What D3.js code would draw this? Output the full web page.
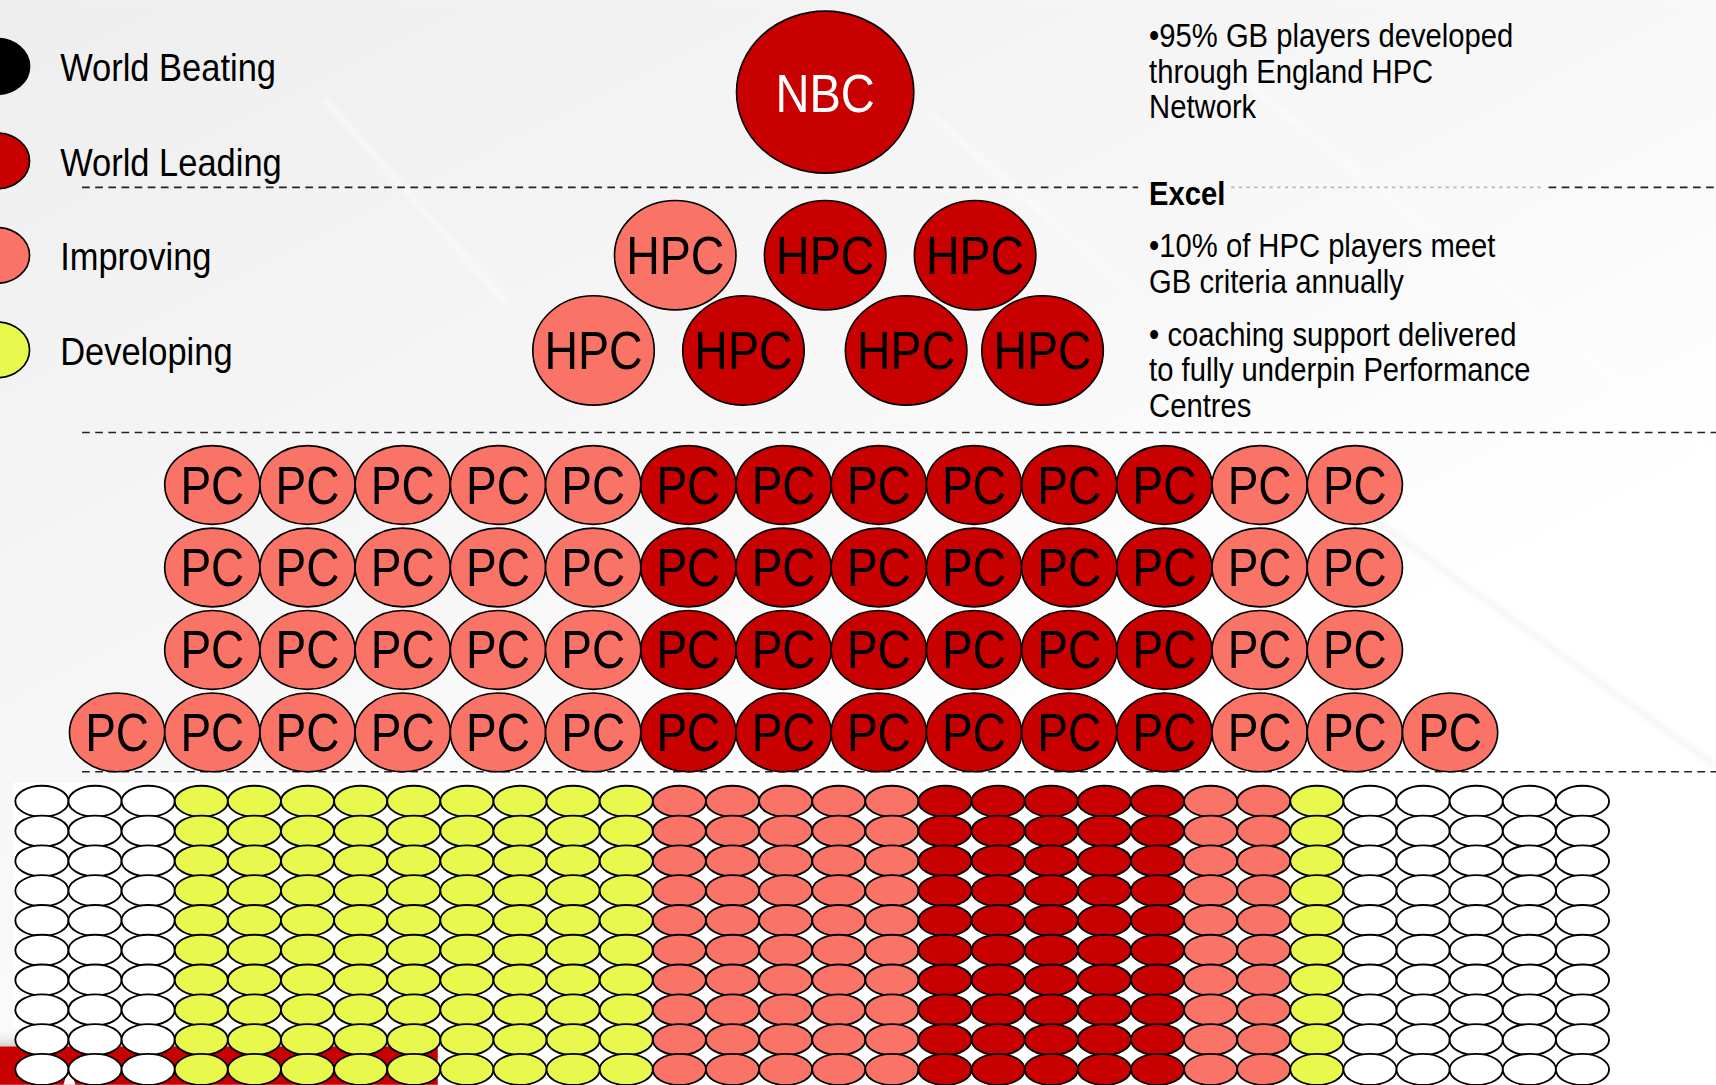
<!DOCTYPE html>
<html>
<head>
<meta charset="utf-8">
<script src="https://cdn.jsdelivr.net/npm/d3@7"></script>
<style>
  html, body { margin: 0; padding: 0; overflow: hidden; background: #fff; }
</style>
</head>
<body>
<div class="chart"></div>
<script>
//** data */
const levels = ["World Beating", "World Leading", "Improving", "Developing"];
const levelFill = ["#000000", "#c80000", "#f97366", "#e8f84c"];

const nbcRow = ["World Leading"];
const hpcRow1 = ["Improving", "World Leading", "World Leading"];
const hpcRow2 = ["Improving", "World Leading", "World Leading", "World Leading"];

// PC rows, left to right as [level, count]
const pcRowRuns = [
  [["Improving", 5], ["World Leading", 6], ["Improving", 2]],
  [["Improving", 5], ["World Leading", 6], ["Improving", 2]],
  [["Improving", 5], ["World Leading", 6], ["Improving", 2]],
  [["Improving", 6], ["World Leading", 6], ["Improving", 3]]
];

// bottom grid: column runs (null = not yet rated), same for every row
const gridColumnRuns = [[null, 3], ["Developing", 9], ["Improving", 5], ["World Leading", 5], ["Improving", 2], ["Developing", 1], [null, 5]];
const gridRowCount = 10;

const notes1 = ["•95% GB players developed", "through England HPC", "Network"];
const notesTitle = "Excel";
const notes2 = ["•10% of HPC players meet", "GB criteria annually"];
const notes3 = ["• coaching support delivered", "to fully underpin Performance", "Centres"];

//** helpers */
const expand = runs => runs.flatMap(([lvl, n]) => d3.range(n).map(() => lvl));
const color = d3.scaleOrdinal(levels, levelFill).unknown("#ffffff");
const FONT = "'Liberation Sans', Arial, Helvetica, sans-serif";
const STRETCH = 1.15;

//** svg */
const W = 1568, H = 991;
const svg = d3.select(".chart")
  .append("svg")
  .attr("width", 1716)
  .attr("height", 1085)
  .attr("viewBox", `0 0 ${W} ${H}`)
  .style("display", "block");

const defs = svg.append("defs");
const bg = defs.append("linearGradient").attr("id", "bg")
  .attr("x1", "0").attr("y1", "0").attr("x2", "0.8").attr("y2", "1");
bg.append("stop").attr("offset", "0%").attr("stop-color", "#eeeeee");
bg.append("stop").attr("offset", "50%").attr("stop-color", "#f8f8f8");
bg.append("stop").attr("offset", "75%").attr("stop-color", "#ffffff");
const shade = defs.append("linearGradient").attr("id", "shade")
  .attr("x1", "0").attr("y1", "0").attr("x2", "0").attr("y2", "1");
shade.append("stop").attr("offset", "0%").attr("stop-color", "#ffffff").attr("stop-opacity", 0);
shade.append("stop").attr("offset", "100%").attr("stop-color", "#cfcfcf");
defs.append("filter").attr("id", "blur").append("feGaussianBlur").attr("stdDeviation", 2.5);

svg.append("rect").attr("width", W).attr("height", H).attr("fill", "url(#bg)");

// faint diagonal streaks of the slide template
const streaks = [[[297, 91], [462, 276]], [[848, 102], [1028, 261]], [[1120, 60], [1568, 420]], [[752, 587], [936, 832]], [[1180, 420], [1568, 700]]];
svg.append("g").attr("filter", "url(#blur)").attr("opacity", 0.45)
  .selectAll("line").data(streaks).join("line")
  .attr("x1", d => d[0][0]).attr("y1", d => d[0][1])
  .attr("x2", d => d[1][0]).attr("y2", d => d[1][1])
  .attr("stroke", (d, i) => i < 3 ? "#ffffff" : "#e8e8e8")
  .attr("stroke-width", 5);

// white field behind the bottom grid
svg.append("rect").attr("x", 12).attr("y", 715).attr("width", 1462).attr("height", 225).attr("fill", "#ffffff");

// footer of the template, bottom left
svg.append("rect").attr("x", 0).attr("y", 938).attr("width", 420).attr("height", 18).attr("fill", "url(#shade)");
svg.append("rect").attr("x", 0).attr("y", 956).attr("width", 400).attr("height", H - 956).attr("fill", "#c80000");
svg.append("polygon").attr("points", "58,991 63,974 69,991").attr("fill", "#ffffff");

function label(g, x, y, txt, size, opts = {}) {
  return g.append("text")
    .attr("transform", `translate(${x},${y}) scale(1,${STRETCH})`)
    .attr("dy", "0.35em")
    .attr("text-anchor", opts.anchor || "start")
    .attr("font-family", FONT)
    .attr("font-size", size)
    .attr("font-weight", opts.bold ? "bold" : "normal")
    .attr("fill", opts.fill || "#000")
    .text(txt);
}

//** dashed separators */
const dash = svg.append("g").attr("stroke", "#222").attr("stroke-width", 1.4).attr("stroke-dasharray", "7,5");
[[75, 1040, 171], [1415, W, 171], [75, W, 395], [75, W, 705]].forEach(([x1, x2, y]) => {
  dash.append("line").attr("x1", x1).attr("x2", x2).attr("y1", y).attr("y2", y);
});
svg.append("line").attr("x1", 1125).attr("x2", 1412).attr("y1", 171).attr("y2", 171)
  .attr("stroke", "#b8b8b8").attr("stroke-width", 1.6).attr("stroke-dasharray", "3,4");

//** legend */
const legendY = d3.scalePoint().domain(levels).range([60.5, 319.5]);
const legend = svg.append("g");
legend.selectAll("ellipse").data(levels).join("ellipse")
  .attr("cx", -3).attr("cy", d => legendY(d))
  .attr("rx", 30).attr("ry", 25.5)
  .attr("fill", d => color(d)).attr("stroke", "#000").attr("stroke-width", 1.5);
levels.forEach(d => label(legend, 55, legendY(d) + 1, d, 31.5));

//** NBC */
const nbc = svg.append("g");
nbcRow.forEach(d => {
  nbc.append("ellipse").attr("cx", 754).attr("cy", 84).attr("rx", 81).attr("ry", 74)
    .attr("fill", color(d)).attr("stroke", "#000").attr("stroke-width", 1.5);
  label(nbc, 754, 85, "NBC", 43, {anchor: "middle", fill: "#ffffff"});
});

//** HPC */
const hpcX = d3.scaleLinear().domain([0, 1]).range([617, 754]);
const hpcY = d3.scalePoint().domain([0, 1]).range([233, 320]);
const hpcRow2Slots = [-0.545, 0.455, 1.54, 2.45];
const hpcData = hpcRow1.map((lvl, i) => ({lvl, x: hpcX(i), y: hpcY(0)}))
  .concat(hpcRow2.map((lvl, i) => ({lvl, x: hpcX(hpcRow2Slots[i]), y: hpcY(1)})));
const hpc = svg.append("g");
hpc.selectAll("ellipse").data(hpcData).join("ellipse")
  .attr("cx", d => d.x).attr("cy", d => d.y).attr("rx", 55.5).attr("ry", 50)
  .attr("fill", d => color(d.lvl)).attr("stroke", "#000").attr("stroke-width", 1.5);
hpcData.forEach(d => label(hpc, d.x, d.y, "HPC", 42.5, {anchor: "middle"}));

//** PC */
const pcRowStart = [1, 1, 1, 0];
const pcX = d3.scaleLinear().domain([0, 14]).range([107, 1325]);
const pcY = d3.scaleLinear().domain([0, 3]).range([443, 669]);
const pcData = pcRowRuns.flatMap((runs, r) => expand(runs).map((lvl, i) => ({lvl, x: pcX(i + pcRowStart[r]), y: pcY(r)})));
const pc = svg.append("g");
pc.selectAll("ellipse").data(pcData).join("ellipse")
  .attr("cx", d => d.x).attr("cy", d => d.y).attr("rx", 43.5).attr("ry", 36)
  .attr("fill", d => color(d.lvl)).attr("stroke", "#000").attr("stroke-width", 1.5);
pcData.forEach(d => label(pc, d.x, d.y, "PC", 42, {anchor: "middle"}));

//** bottom grid */
const gridCols = expand(gridColumnRuns);
const gx = d3.scaleLinear().domain([0, gridCols.length - 1]).range([38.3, 1446]);
const gy = d3.scaleLinear().domain([0, gridRowCount - 1]).range([732, 977]);
const gridData = d3.range(gridRowCount).flatMap(r => gridCols.map((lvl, c) => ({lvl, x: gx(c), y: gy(r)})));
svg.append("g").selectAll("ellipse").data(gridData).join("ellipse")
  .attr("cx", d => d.x).attr("cy", d => d.y).attr("rx", 24.3).attr("ry", 14.2)
  .attr("fill", d => color(d.lvl)).attr("stroke", "#000").attr("stroke-width", 1.7);

//** notes on the right */
const notes = svg.append("g");
const lineH = 32.5;
notes1.forEach((t, i) => label(notes, 1050, 32 + i * lineH, t, 26.7));
label(notes, 1050, 176, notesTitle, 26.7, {bold: true});
notes2.forEach((t, i) => label(notes, 1050, 224 + i * lineH, t, 26.7));
notes3.forEach((t, i) => label(notes, 1050, 305 + i * lineH, t, 26.7));
</script>
</body>
</html>
